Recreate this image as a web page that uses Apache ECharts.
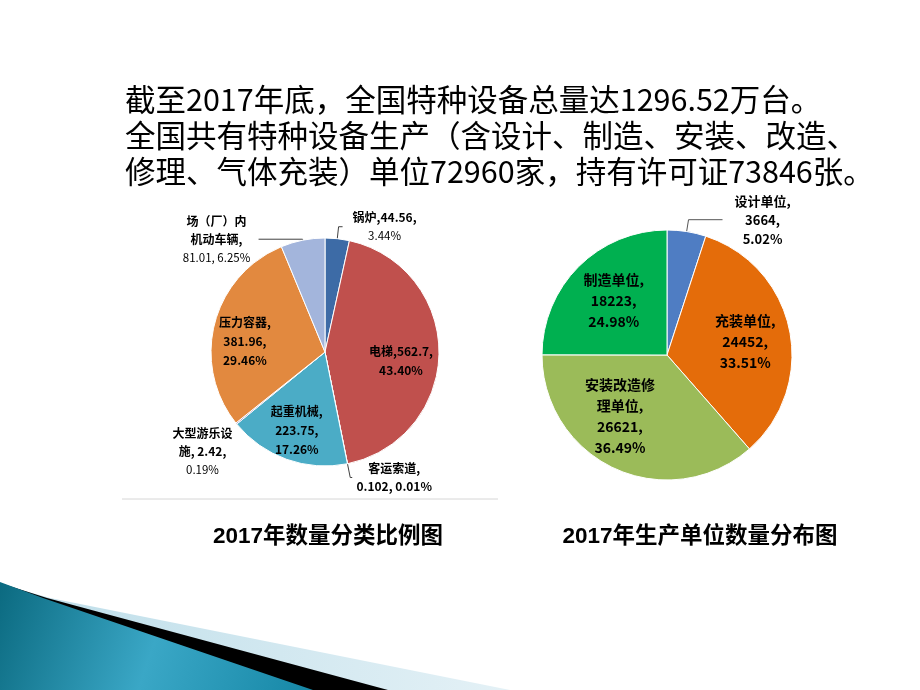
<!DOCTYPE html>
<html>
<head>
<meta charset="utf-8">
<title>2017年特种设备统计</title>
<script src="https://cdn.jsdelivr.net/npm/echarts@6/dist/echarts.min.js"></script>
<style>
  html, body { margin: 0; padding: 0; background: #fff; }
  #main { width: 920px; height: 690px; }
</style>
</head>
<body>
<div id="main"></div>
<script>
// 2017年特种设备数量（万台）
const equipNames = ['锅炉', '电梯', '客运索道', '起重机械', '大型游乐设施', '压力容器', '场（厂）内机动车辆'];
const equipValues = [44.56, 562.7, 0.102, 223.75, 2.42, 381.96, 81.01];
// names as they wrap on the slide
const equipLabelNames = ['锅炉', '电梯', '客运索道', '起重机械', '大型游乐设\n施', '压力容器', '场（厂）内\n机动车辆'];

// 生产单位数量（家）
const unitNames = ['设计单位', '充装单位', '安装改造修理单位', '制造单位'];
const unitValues = [3664, 24452, 26621, 18223];
const unitLabelNames = ['设计单位', '充装单位', '安装改造修\n理单位', '制造单位'];

const titleLines = [
  '截至2017年底，全国特种设备总量达1296.52万台。',
  '全国共有特种设备生产（含设计、制造、安装、改造、',
  '修理、气体充装）单位72960家，持有许可证73846张。'
];
const captions = ['2017年数量分类比例图', '2017年生产单位数量分布图'];

const cjk = "'Noto Sans CJK SC', sans-serif";

// --- left pie styling
const equipColors = ['#3d6ba6', '#c0504d', '#9bbb59', '#4bacc6', '#8064a2', '#e2893f', '#a3b5dc'];
const equipTpl = [
  '{ob|%N,%V,}\n{ov|%P}',
  '{ib|%N,%V,}\n{ib|%P}',
  '{ob|%N,}\n{ob|%V, %P}',
  '{ib|%N,}\n{ib|%V,}\n{ib|%P}',
  '{ob|%N, %V,}\n{ov|%P}',
  '{ib|%N,}\n{ib|%V,}\n{ib|%P}',
  '{ob|%N,}\n{ov|%V, %P}'
];
const equipLine = [
  { show: true, length: 12, length2: 4 },
  { show: false },
  { show: true, length: 14, length2: 2 },
  { show: false },
  { show: false, length: 28, length2: 0 },
  { show: false },
  { show: true, length: 1, length2: 44 }
];
const equipShift = [null, { dx: 16, dy: 8 }, null, { dx: -8, dy: 22 }, { dx: 30, dy: 10 }, { dx: -22, dy: 4 }, null];

// --- right pie styling
const unitColors = ['#4f7dc3', '#e46c0a', '#9bbb59', '#00b050'];
const unitTpl = [
  '{rb|%N,}\n{rb|%V,}\n{rb|%P}',
  '{ib2|%N,}\n{ib2|%V,}\n{ib2|%P}',
  '{ib2|%N,}\n{ib2|%V,}\n{ib2|%P}',
  '{ib2|%N,}\n{ib2|%V,}\n{ib2|%P}'
];
const unitLine = [
  { show: true, length: 12, length2: 34 },
  { show: false }, { show: false }, { show: false }
];
const unitShift = [null, { dx: 14, dy: 0 }, { dx: -20, dy: 2 }, { dx: -7, dy: -8 }];

function makeFormatter(tpl, labelNames, values) {
  const total = values.reduce((a, b) => a + b, 0);
  return function (p) {
    const pct = (p.value / total * 100).toFixed(2) + '%';
    return tpl[p.dataIndex]
      .replace('%N', labelNames[p.dataIndex])
      .replace('%V', String(p.value))
      .replace('%P', pct);
  };
}

function buildData(names, values, colors, lines) {
  return names.map((name, i) => ({
    name: name,
    value: values[i],
    itemStyle: { color: colors[i] },
    label: { position: lines[i].length != null ? 'outside' : 'inside' },
    labelLine: lines[i]
  }));
}

const chart = echarts.init(document.getElementById('main'));

const option = {
  backgroundColor: '#ffffff',
  animation: false,
  title: {
    text: titleLines.join('\n'),
    left: 120,
    top: 76,
    textStyle: { fontFamily: cjk, fontSize: 30.5, fontWeight: 'normal', lineHeight: 36, color: '#000' }
  },
  series: [
    {
      type: 'pie',
      center: [325, 352],
      radius: 114,
      startAngle: 90,
      clockwise: true,
      avoidLabelOverlap: false,
      itemStyle: { borderColor: '#ffffff', borderWidth: 1 },
      label: {
        color: '#000',
        fontFamily: cjk,
        fontSize: 12,
        formatter: makeFormatter(equipTpl, equipLabelNames, equipValues),
        rich: {
          ib: { fontFamily: cjk, fontSize: 12, fontWeight: 'bold', lineHeight: 19, color: '#000' },
          ob: { fontFamily: cjk, fontSize: 12, fontWeight: 'bold', lineHeight: 18, color: '#000', width: 74, align: 'center' },
          ov: { fontFamily: cjk, fontSize: 11.5, fontWeight: 'normal', lineHeight: 18, color: '#000', width: 74, align: 'center' }
        }
      },
      labelLine: { lineStyle: { color: '#404040', width: 1 } },
      labelLayout: function (p) { return equipShift[p.dataIndex] || {}; },
      data: buildData(equipNames, equipValues, equipColors, equipLine)
    },
    {
      type: 'pie',
      center: [667, 355],
      radius: 125,
      startAngle: 90,
      clockwise: true,
      avoidLabelOverlap: false,
      itemStyle: { borderColor: '#ffffff', borderWidth: 1 },
      label: {
        color: '#000',
        fontFamily: cjk,
        fontSize: 14,
        formatter: makeFormatter(unitTpl, unitLabelNames, unitValues),
        rich: {
          ib2: { fontFamily: cjk, fontSize: 14, fontWeight: 'bold', lineHeight: 21, color: '#000' },
          rb: { fontFamily: cjk, fontSize: 13, fontWeight: 'bold', lineHeight: 19, color: '#000', width: 70, align: 'center' }
        }
      },
      labelLine: { lineStyle: { color: '#555', width: 1 } },
      labelLayout: function (p) { return unitShift[p.dataIndex] || {}; },
      data: buildData(unitNames, unitValues, unitColors, unitLine)
    }
  ],
  graphic: [
    // frame bottom under the first chart
    { type: 'line', shape: { x1: 122, y1: 499, x2: 498, y2: 499 }, style: { stroke: '#d6d6d6', lineWidth: 1 } },
    {
      type: 'text', x: 328, y: 537,
      style: { text: captions[0], font: "bold 22.5px 'Liberation Sans', 'Noto Sans CJK SC'", fill: '#000', align: 'center', verticalAlign: 'middle' }
    },
    {
      type: 'text', x: 700, y: 537,
      style: { text: captions[1], font: "bold 22.5px 'Liberation Sans', 'Noto Sans CJK SC'", fill: '#000', align: 'center', verticalAlign: 'middle' }
    },
    // bottom-left swoosh
    {
      type: 'polygon', z: 1,
      shape: { points: [[0, 584], [50, 598], [510, 690], [0, 690]] },
      style: { fill: new echarts.graphic.LinearGradient(0, 0, 1, 0, [
        { offset: 0, color: '#bcdde9' }, { offset: 1, color: '#e4f1f6' }]) }
    },
    {
      type: 'polygon', z: 2,
      shape: { points: [[0, 583], [47, 598], [388, 690], [0, 690]] },
      style: { fill: '#000' }
    },
    {
      type: 'polygon', z: 3,
      shape: { points: [[0, 582], [43, 598], [313, 690], [0, 690]] },
      style: { fill: new echarts.graphic.LinearGradient(0, 0, 1, 1, [
        { offset: 0, color: '#0b6a80' }, { offset: 0.5, color: '#3aa7c6' }, { offset: 1, color: '#1687a6' }]) }
    }
  ]
};

chart.setOption(option);
</script>
</body>
</html>
